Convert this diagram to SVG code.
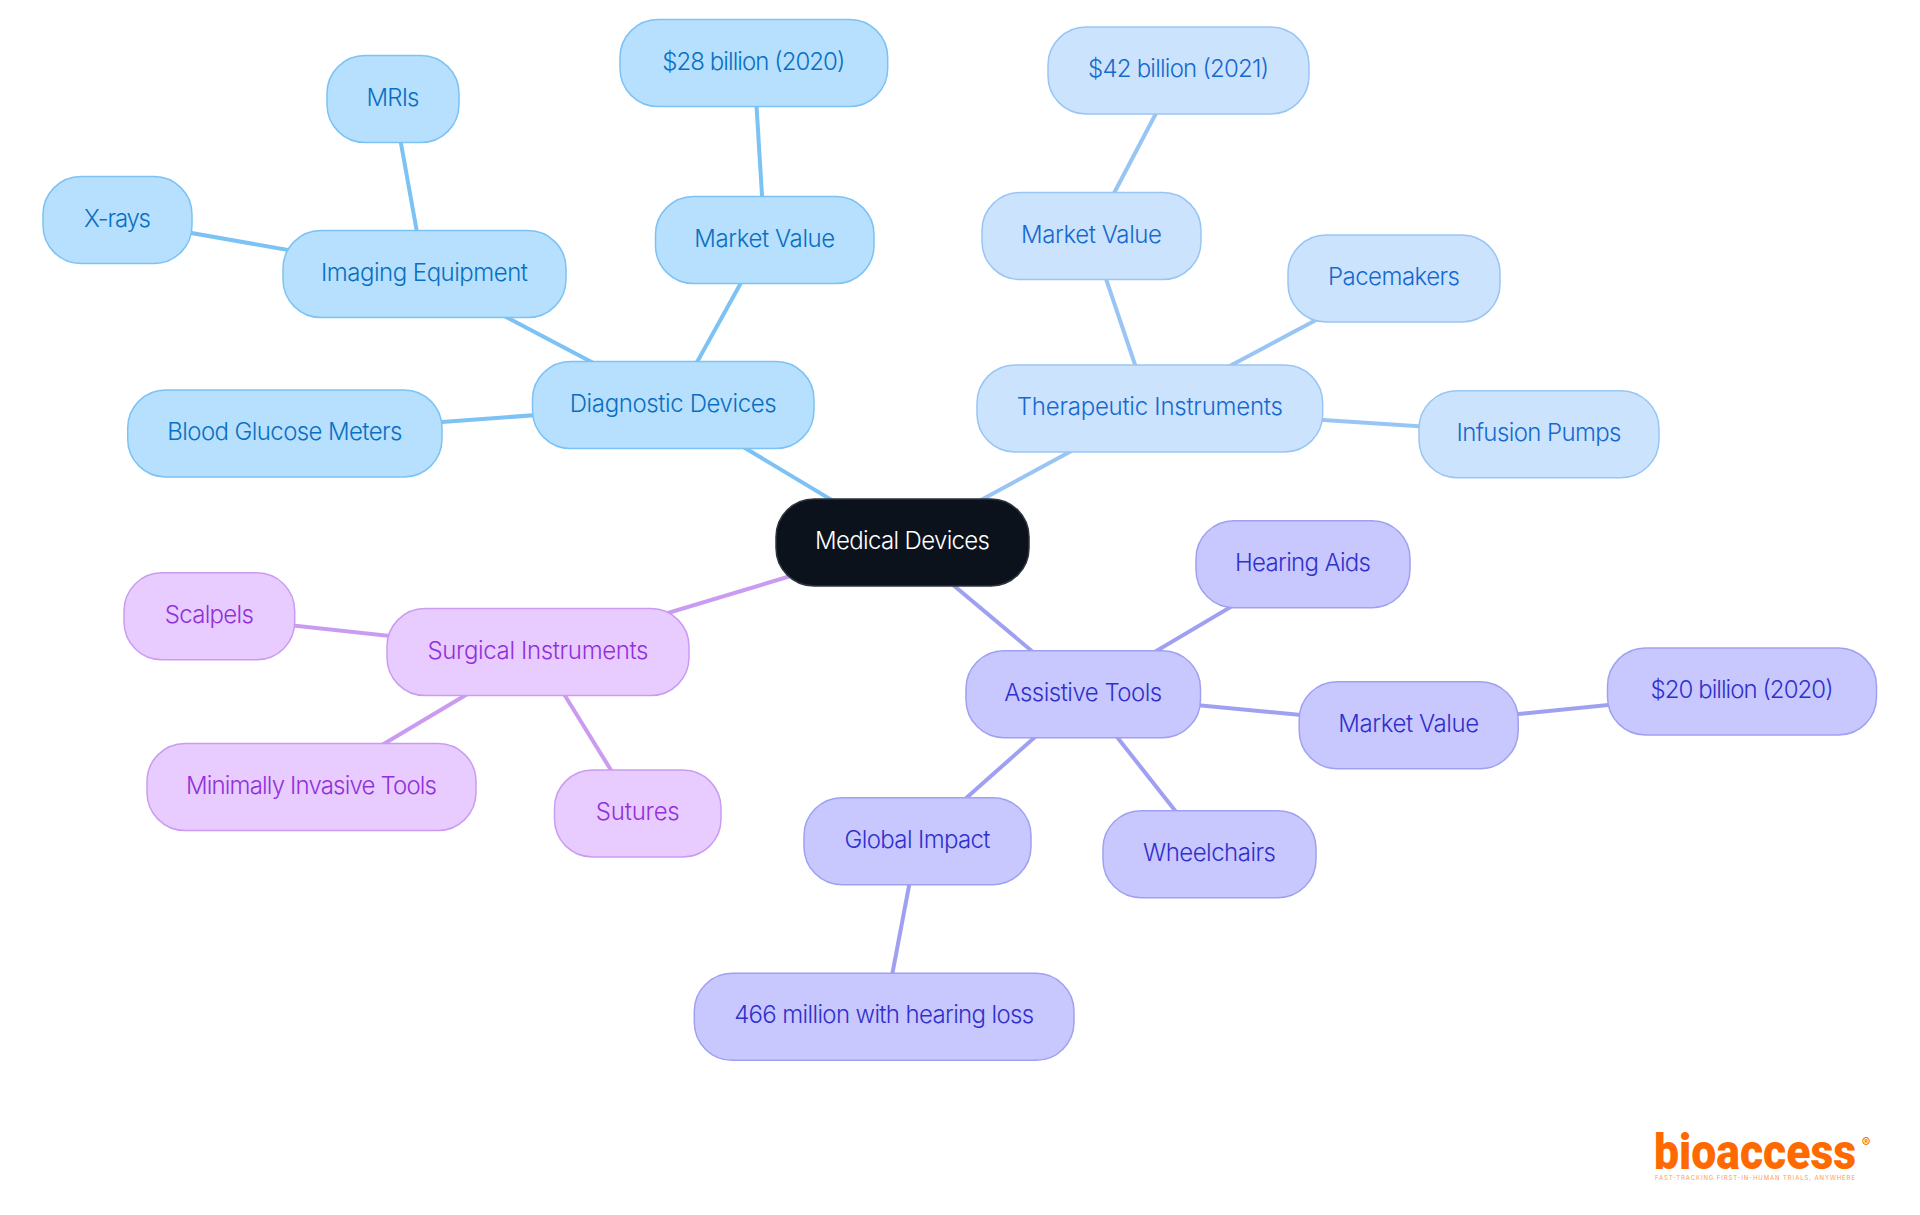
<svg xmlns="http://www.w3.org/2000/svg" width="1920" height="1215" viewBox="0 0 1920 1215">
<style>
text{font-family:"Inter","Noto Sans","Liberation Sans",sans-serif;font-size:24px;font-weight:300;text-anchor:middle}
rect{rx:38px;ry:38px;stroke-width:1.5}
line{stroke-width:4;fill:none}
.root rect{fill:#0b121b;stroke:#2e343c}.root text{fill:#fff}
.diag rect{fill:#b6e0fe;stroke:#7cc2f4}.diag text{fill:#0a6fc2}
.ther rect{fill:#cce3fd;stroke:#99c5f5}.ther text{fill:#1569cf}
.surg rect{fill:#e8ccff;stroke:#c99cf2}.surg text{fill:#9230dc}
.assi rect{fill:#c8c8ff;stroke:#a0a0f2}.assi text{fill:#3030cc}
.l-d{stroke:#7cc2f4}.l-t{stroke:#99c5f5}.l-s{stroke:#c99cf2}.l-a{stroke:#a0a0f2}
.logo{font-family:"Roboto","Liberation Sans",sans-serif;font-weight:900;fill:#ff6a00;text-anchor:start}
</style>
<rect x="0" y="0" width="1920" height="1215" fill="#fff" style="rx:0;ry:0;stroke:none"/>
<g id="connectors">
<line class="l-d" x1="902.5" y1="542.5" x2="673.25" y2="405"/>
<line class="l-t" x1="902.5" y1="542.5" x2="1149.85" y2="408.5"/>
<line class="l-s" x1="902.5" y1="542.5" x2="538" y2="652"/>
<line class="l-a" x1="902.5" y1="542.5" x2="1083.25" y2="694.2"/>
<line class="l-d" x1="673.25" y1="405" x2="424.5" y2="274"/>
<line class="l-d" x1="673.25" y1="405" x2="764.75" y2="240"/>
<line class="l-d" x1="673.25" y1="405" x2="284.85" y2="433.5"/>
<line class="l-d" x1="424.5" y1="274" x2="117.5" y2="220"/>
<line class="l-d" x1="424.5" y1="274" x2="393" y2="99"/>
<line class="l-d" x1="764.75" y1="240" x2="753.85" y2="63"/>
<line class="l-t" x1="1149.85" y1="408.5" x2="1091.5" y2="236"/>
<line class="l-t" x1="1091.5" y1="236" x2="1178.5" y2="70.5"/>
<line class="l-t" x1="1149.85" y1="408.5" x2="1394" y2="278.5"/>
<line class="l-t" x1="1149.85" y1="408.5" x2="1539" y2="434.2"/>
<line class="l-s" x1="538" y1="652" x2="209.35" y2="616.3"/>
<line class="l-s" x1="538" y1="652" x2="311.5" y2="787"/>
<line class="l-s" x1="538" y1="652" x2="637.75" y2="813.5"/>
<line class="l-a" x1="1083.25" y1="694.2" x2="1303" y2="564.2"/>
<line class="l-a" x1="1083.25" y1="694.2" x2="1408.7" y2="725.2"/>
<line class="l-a" x1="1408.7" y1="725.2" x2="1742" y2="691.5"/>
<line class="l-a" x1="1083.25" y1="694.2" x2="1209.5" y2="854.2"/>
<line class="l-a" x1="1083.25" y1="694.2" x2="917.5" y2="841.2"/>
<line class="l-a" x1="917.5" y1="841.2" x2="884.15" y2="1016.8"/>
</g>
<g id="n-root" class="root"><rect x="776" y="499" width="253" height="87"/><text x="902.5" y="549" textLength="175">Medical Devices</text></g>
<g id="n-diagnostic" class="diag"><rect x="532.5" y="361.5" width="281.5" height="87"/><text x="673.25" y="411.5" textLength="207">Diagnostic Devices</text></g>
<g id="n-imaging" class="diag"><rect x="283" y="230.5" width="283" height="87"/><text x="424.5" y="280.5" textLength="207">Imaging Equipment</text></g>
<g id="n-market-d" class="diag"><rect x="655.5" y="196.5" width="218.5" height="87"/><text x="764.75" y="246.5" textLength="141">Market Value</text></g>
<g id="n-blood" class="diag"><rect x="127.7" y="390" width="314.3" height="87"/><text x="284.85" y="440" textLength="235">Blood Glucose Meters</text></g>
<g id="n-xrays" class="diag"><rect x="43" y="176.5" width="149" height="87"/><text x="117.5" y="226.5" textLength="67">X-rays</text></g>
<g id="n-mris" class="diag"><rect x="327" y="55.5" width="132" height="87"/><text x="393" y="105.5" textLength="53">MRIs</text></g>
<g id="n-28b" class="diag"><rect x="620" y="19.5" width="267.7" height="87"/><text x="753.85" y="69.5" textLength="183">$28 billion (2020)</text></g>
<g id="n-therapeutic" class="ther"><rect x="977" y="365" width="345.7" height="87"/><text x="1149.85" y="415" textLength="266">Therapeutic Instruments</text></g>
<g id="n-market-t" class="ther"><rect x="982" y="192.5" width="219" height="87"/><text x="1091.5" y="242.5" textLength="141">Market Value</text></g>
<g id="n-42b" class="ther"><rect x="1048" y="27" width="261" height="87"/><text x="1178.5" y="77" textLength="181">$42 billion (2021)</text></g>
<g id="n-pacemakers" class="ther"><rect x="1288" y="235" width="212" height="87"/><text x="1394" y="285" textLength="132">Pacemakers</text></g>
<g id="n-infusion" class="ther"><rect x="1419" y="390.7" width="240" height="87"/><text x="1539" y="440.7" textLength="165">Infusion Pumps</text></g>
<g id="n-surgical" class="surg"><rect x="387" y="608.5" width="302" height="87"/><text x="538" y="658.5" textLength="221">Surgical Instruments</text></g>
<g id="n-scalpels" class="surg"><rect x="124" y="572.8" width="170.7" height="87"/><text x="209.35" y="622.8" textLength="89">Scalpels</text></g>
<g id="n-minimally" class="surg"><rect x="147" y="743.5" width="329" height="87"/><text x="311.5" y="793.5" textLength="251">Minimally Invasive Tools</text></g>
<g id="n-sutures" class="surg"><rect x="554.5" y="770" width="166.5" height="87"/><text x="637.75" y="820" textLength="84">Sutures</text></g>
<g id="n-assistive" class="assi"><rect x="966" y="650.7" width="234.5" height="87"/><text x="1083.25" y="700.7" textLength="158">Assistive Tools</text></g>
<g id="n-hearing" class="assi"><rect x="1196" y="520.7" width="214" height="87"/><text x="1303" y="570.7" textLength="136">Hearing Aids</text></g>
<g id="n-market-a" class="assi"><rect x="1299.2" y="681.7" width="219" height="87"/><text x="1408.7" y="731.7" textLength="141">Market Value</text></g>
<g id="n-20b" class="assi"><rect x="1607.5" y="648" width="269" height="87"/><text x="1742" y="698" textLength="183">$20 billion (2020)</text></g>
<g id="n-wheelchairs" class="assi"><rect x="1103" y="810.7" width="213" height="87"/><text x="1209.5" y="860.7" textLength="133">Wheelchairs</text></g>
<g id="n-global" class="assi"><rect x="804" y="797.7" width="227" height="87"/><text x="917.5" y="847.7" textLength="146">Global Impact</text></g>
<g id="n-466" class="assi"><rect x="694.3" y="973.3" width="379.7" height="87"/><text x="884.15" y="1023.3" textLength="300">466 million with hearing loss</text></g>
<g id="logo">
<text class="logo" x="1654" y="1169" style="font-size:50px" textLength="202" lengthAdjust="spacingAndGlyphs">bioaccess</text>
<text x="1866" y="1147" style="font-size:13px;font-weight:600;fill:#ff6a00">®</text>
<text x="1755" y="1180" style="font-size:6px;font-weight:400;fill:#ff9a55" textLength="200">FAST-TRACKING FIRST-IN-HUMAN TRIALS, ANYWHERE</text>
</g>
</svg>
